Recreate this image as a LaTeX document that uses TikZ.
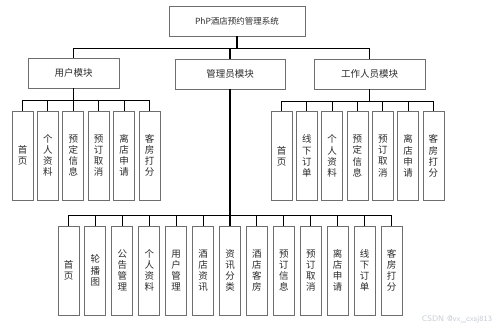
\documentclass[tikz,border=0pt]{standalone}
\usepackage{fontspec}
\newfontfamily\cjk{Noto Sans CJK SC}
\definecolor{Frame}{HTML}{6E6E6E}
\definecolor{Ink}{HTML}{2B2B2B}
\definecolor{Mark}{HTML}{C4CBD3}
\tikzset{
  sysbox/.style={draw=Frame,line width=0.9pt,minimum width=136,minimum height=30,inner sep=0,font=\cjk\fontsize{8.5}{10}\selectfont,text=Ink},
  modbox/.style={draw=Frame,line width=0.9pt,minimum height=30,inner sep=0,font=\cjk\fontsize{9.5}{11}\selectfont,text=Ink},
  leafbox/.style={draw=Frame,line width=0.9pt,minimum width=21,minimum height=89,inner sep=0,align=center,font=\cjk\fontsize{9.5}{11.2}\selectfont,text=Ink},
  link/.style={draw=black,line width=1.1pt}
}
\begin{document}
\begin{tikzpicture}[x=1pt,y=-1pt]
\useasboundingbox (0,0) rectangle (500,328);
% top and modules
\node[sysbox] (sys) at (237,21) {PhP酒店预约管理系统};
\node[modbox,minimum width=91] (user) at (73.5,73) {用户模块};
\node[modbox,minimum width=110] (admin) at (230,74) {管理员模块};
\node[modbox,minimum width=111] (staff) at (369.5,74) {工作人员模块};
\foreach \m in {user,admin,staff}{\draw[link] (sys.south) -- ++(0,12) -| (\m.north);}
% user leaves
\foreach \t [count=\i] in {首\\页,个\\人\\资\\料,预\\定\\信\\息,预\\订\\取\\消,离\\店\\申\\请,客\\房\\打\\分}{
  \node[leafbox] (u\i) at ({22.5+25.4*(\i-1)},155.5) {\t};
  \draw[link] (user.south) -- ++(0,12) -| (u\i.north);
}
% staff leaves
\foreach \t [count=\i] in {首\\页,线\\下\\订\\单,个\\人\\资\\料,预\\定\\信\\息,预\\订\\取\\消,离\\店\\申\\请,客\\房\\打\\分}{
  \node[leafbox] (s\i) at ({281.5+25.33*(\i-1)},156) {\t};
  \draw[link] (staff.south) -- ++(0,12) -| (s\i.north);
}
% admin leaves
\foreach \t [count=\i] in {首\\页,轮\\播\\图,公\\告\\管\\理,个\\人\\资\\料,用\\户\\管\\理,酒\\店\\资\\讯,资\\讯\\分\\类,酒\\店\\客\\房,预\\订\\信\\息,预\\订\\取\\消,离\\店\\申\\请,线\\下\\订\\单,客\\房\\打\\分}{
  \node[leafbox] (a\i) at ({68.5+26.92*(\i-1)},270.5) {\t};
  \draw[link] (admin.south) -- ++(0,126) -| (a\i.north);
}
\node[text=Mark,font=\sffamily\fontsize{8}{9}\selectfont,inner sep=0] (mark) at (457,319) {CSDN @vx\_cxsj813};
\end{tikzpicture}
\end{document}
